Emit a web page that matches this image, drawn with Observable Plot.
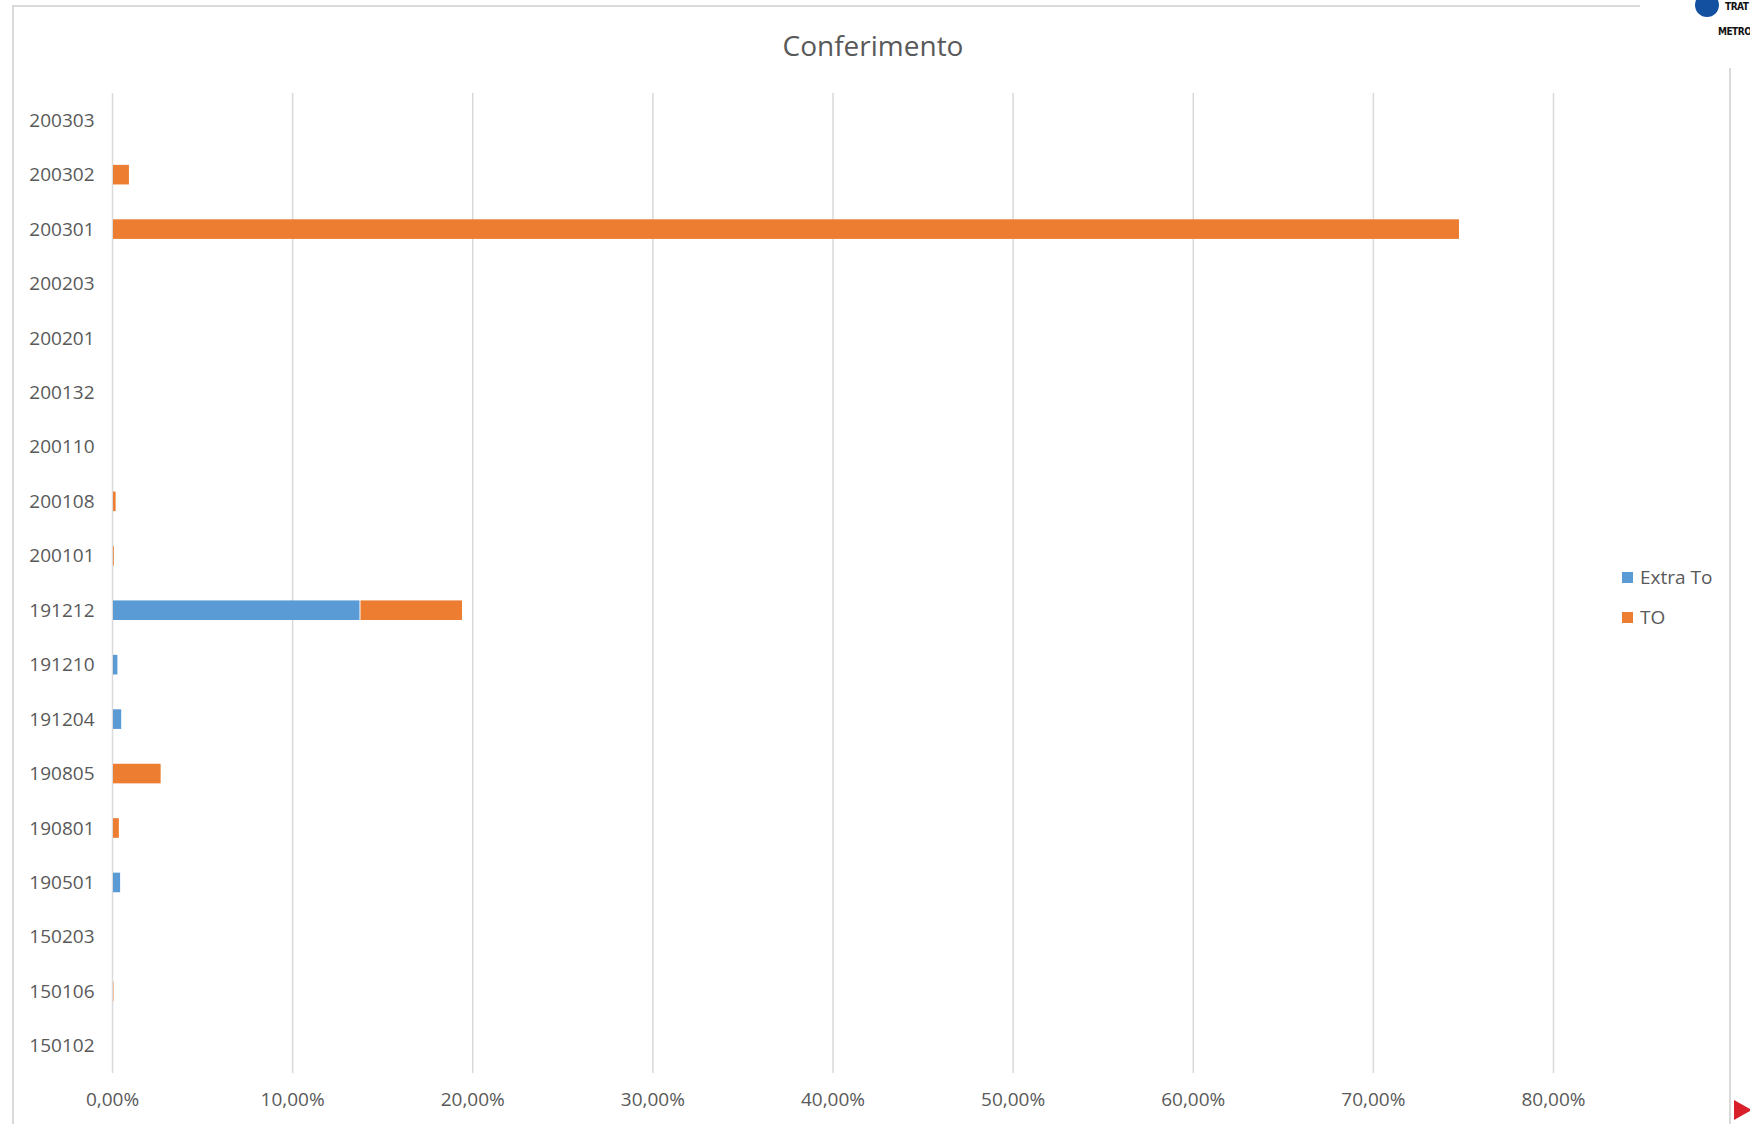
<!DOCTYPE html>
<html>
<head>
<meta charset="utf-8">
<script src="https://cdn.jsdelivr.net/npm/d3@7"></script>
<script src="https://cdn.jsdelivr.net/npm/@observablehq/plot@0.6"></script>
<style>
  html, body { margin: 0; padding: 0; background: #fff; }
  #wrap { position: relative; width: 1750px; height: 1124px; overflow: hidden; font-family: "Open Sans", sans-serif; color: #595959; }
  #frame { position: absolute; left: 12px; top: 5px; width: 1719px; height: 1200px; border: 2px solid #d9d9d9; box-sizing: border-box; }
  #chart { position: absolute; left: 0; top: 0; }
  #title { position: absolute; left: 0; width: 1746px; top: 27px; text-align: center; font-size: 28px; line-height: 36px; color: #595959; }
  .leg { position: absolute; left: 1622px; font-size: 19px; line-height: 24px; height: 24px; color: #595959; white-space: nowrap; }
  .leg span.sw { display: inline-block; width: 11px; height: 11px; margin-right: 7px; vertical-align: 1px; }
  #logo { position: absolute; left: 1640px; top: 0; width: 110px; height: 68px; background: #fff; }
  #logo .dot { position: absolute; left: 55px; top: -7px; width: 24px; height: 24px; border-radius: 50%; background: #1450a0; }
  #logo .t1 { position: absolute; left: 85px; top: 1px; font: bold 10px "DejaVu Sans Condensed", sans-serif; color: #111; letter-spacing: -0.5px; }
  #logo .t2 { position: absolute; left: 78px; top: 26px; font: bold 10px "DejaVu Sans Condensed", sans-serif; color: #111; letter-spacing: -0.5px; }
  #tri { position: absolute; left: 1734px; top: 1100px; width: 0; height: 0; border-top: 10px solid transparent; border-bottom: 10px solid transparent; border-left: 18px solid #d8202a; }
</style>
</head>
<body>
<div id="wrap">
  <div id="frame"></div>
  <div id="chart"></div>
  <div id="title"></div>
  <div id="legend"></div>
  <div id="logo"><div class="dot"></div><div class="t1">TRAT</div><div class="t2">METRO</div></div>
  <div id="tri"></div>
</div>
<script>
// ---- data ----
const title = "Conferimento";
const codes = ["200303","200302","200301","200203","200201","200132","200110","200108","200101",
               "191212","191210","191204","190805","190801","190501","150203","150106","150102"];
const seriesNames = ["Extra To", "TO"];
const seriesColors = ["#5B9BD5", "#ED7D31"];
const extraTo = [0, 0, 0, 0, 0, 0, 0, 0, 0,
                 0.1374, 0.0030, 0.0051, 0, 0, 0.0045, 0, 0, 0];
const toValues = [0, 0.0094, 0.7478, 0, 0, 0, 0, 0.0020, 0.0010,
                  0.0569, 0, 0, 0.0270, 0.0038, 0, 0, 0.0008, 0];
const xTicks = [0, 0.1, 0.2, 0.3, 0.4, 0.5, 0.6, 0.7, 0.8];

// ---- build table ----
const rows = [];
codes.forEach((c, i) => {
  rows.push({code: c, series: seriesNames[0], value: extraTo[i]});
  rows.push({code: c, series: seriesNames[1], value: toValues[i]});
});

const it = d3.formatLocale({decimal: ",", thousands: ".", grouping: [3], currency: ["€", ""]});
const pct = it.format(".2%");

const chart = Plot.plot({
  width: 1750,
  height: 1124,
  marginLeft: 112,
  marginRight: 197,
  marginTop: 93,
  marginBottom: 51,
  style: {fontFamily: "Open Sans, sans-serif", fontSize: "19px", color: "#595959", background: "transparent"},
  x: {domain: [0, 0.8], ticks: xTicks, tickFormat: pct, label: null},
  y: {domain: codes, paddingInner: 0.64, paddingOuter: 0.32, round: false, label: null},
  color: {domain: seriesNames, range: seriesColors},
  marks: [
    Plot.gridX(xTicks, {stroke: "#d9d9d9", strokeOpacity: 1, strokeWidth: 1.5}),
    Plot.barX(rows, {x: "value", y: "code", fill: "series", insetLeft: 1}),
    Plot.axisX(xTicks, {tickSize: 0, tickPadding: 19, tickFormat: pct, fill: "#595959", fontSize: 19}),
    Plot.axisY({tickSize: 0, tickPadding: 18, fill: "#595959", fontSize: 19})
  ]
});
document.getElementById("chart").appendChild(chart);

document.getElementById("title").textContent = title;

const legend = document.getElementById("legend");
const legendTops = [564.5, 605];
seriesNames.forEach((name, i) => {
  const d = document.createElement("div");
  d.className = "leg";
  d.style.top = legendTops[i] + "px";
  const sw = document.createElement("span");
  sw.className = "sw";
  sw.style.background = seriesColors[i];
  d.appendChild(sw);
  d.appendChild(document.createTextNode(name));
  legend.appendChild(d);
});
</script>
</body>
</html>
